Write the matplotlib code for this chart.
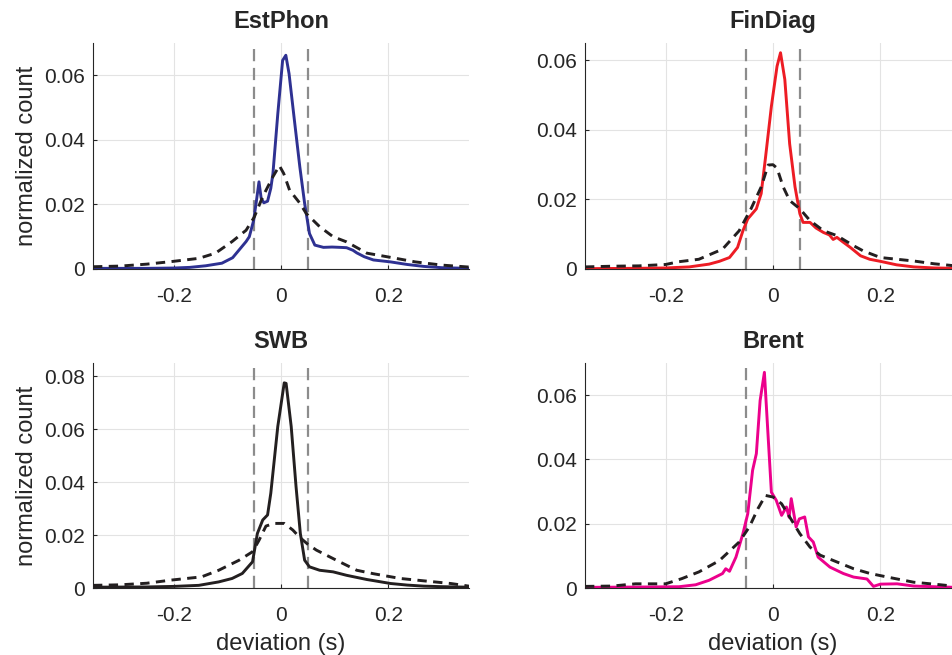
"""
Timing deviation histograms for four corpora, each compared with a
baseline distribution (black dashed). Gray dashed lines mark +-50 ms.
"""

import numpy as np
import matplotlib.pyplot as plt
from matplotlib.ticker import FuncFormatter

# Panel names and line colours
corpora = ["EstPhon", "FinDiag", "SWB", "Brent"]
corpus_colors = ["#2e3192", "#ed1c24", "#231f20", "#ec008c"]

# EstPhon: measured curve
estphon_x = [-0.35, -0.25, -0.2, -0.17, -0.14, -0.11, -0.09, -0.078, -0.065, -0.059,
             -0.051, -0.045, -0.041, -0.037, -0.032, -0.025, -0.019, -0.015, -0.006,
             0.003, 0.009, 0.015, 0.025, 0.035, 0.044, 0.053, 0.063, 0.079, 0.095,
             0.11, 0.122, 0.134, 0.141, 0.155, 0.172, 0.204, 0.235, 0.266, 0.3, 0.35]
estphon_y = [0.0002, 0.0002, 0.0003, 0.0005, 0.001, 0.0018, 0.0035, 0.0059, 0.0085, 0.010,
             0.015, 0.022, 0.027, 0.022, 0.0205, 0.021, 0.025, 0.0296, 0.048,
             0.0646, 0.0662, 0.0605, 0.046, 0.0317, 0.0203, 0.011, 0.0074, 0.0067, 0.0068,
             0.0067, 0.0066, 0.0058, 0.005, 0.0038, 0.0028, 0.0022, 0.0014, 0.0008, 0.0004, 0.0002]
# EstPhon: baseline
estphon_base_x = [-0.35, -0.3, -0.25, -0.204, -0.153, -0.122, -0.091, -0.065, -0.05, -0.034,
                  -0.015, -0.003, 0.005, 0.016, 0.035, 0.047, 0.072, 0.097, 0.122, 0.16,
                  0.204, 0.25, 0.3, 0.35]
estphon_base_y = [0.0007, 0.0009, 0.0015, 0.0023, 0.0033, 0.0049, 0.0085, 0.012, 0.016, 0.0224,
                  0.0286, 0.032, 0.0296, 0.0244, 0.0204, 0.0172, 0.0131, 0.010, 0.0084, 0.0049,
                  0.0036, 0.0022, 0.0012, 0.0006]

# FinDiag
findiag_x = [-0.35, -0.25, -0.2, -0.156, -0.119, -0.1, -0.081, -0.066, -0.056, -0.047,
             -0.031, -0.022, -0.014, -0.003, 0.0075, 0.014, 0.022, 0.031, 0.041, 0.05,
             0.056, 0.069, 0.08, 0.094, 0.105, 0.112, 0.119, 0.13, 0.144, 0.163, 0.18,
             0.2, 0.23, 0.262, 0.3, 0.34]
findiag_y = [0.0001, 0.0002, 0.0003, 0.0006, 0.0014, 0.0022, 0.0033, 0.0062, 0.011, 0.0144,
             0.0173, 0.0217, 0.032, 0.0468, 0.0583, 0.0622, 0.0545, 0.036, 0.0236, 0.0159,
             0.0134, 0.0134, 0.0118, 0.0105, 0.0098, 0.0085, 0.0091, 0.0078, 0.0062, 0.0038, 0.0028,
             0.0022, 0.0012, 0.0006, 0.0003, 0.0002]
findiag_base_x = [-0.35, -0.3, -0.25, -0.2, -0.175, -0.138, -0.094, -0.063, -0.041, -0.022,
                  -0.009, 0.0, 0.0075, 0.019, 0.031, 0.05, 0.069, 0.094, 0.119, 0.15,
                  0.168, 0.2, 0.262, 0.3, 0.34]
findiag_base_y = [0.0006, 0.0008, 0.0009, 0.0013, 0.0021, 0.0028, 0.0057, 0.011, 0.0173, 0.0236,
                  0.0299, 0.030, 0.029, 0.0236, 0.0197, 0.0173, 0.0139, 0.011, 0.0096, 0.0067,
                  0.0052, 0.0033, 0.0023, 0.0015, 0.0009]

# SWB
swb_x = [-0.35, -0.25, -0.2, -0.153, -0.116, -0.091, -0.072, -0.053, -0.044, -0.034,
         -0.025, -0.019, -0.006, 0.006, 0.0095, 0.019, 0.028, 0.036, 0.044, 0.053,
         0.072, 0.097, 0.122, 0.16, 0.172, 0.204, 0.235, 0.266, 0.3, 0.35]
swb_y = [0.0003, 0.0004, 0.0006, 0.001, 0.0023, 0.0036, 0.0055, 0.0099, 0.0206, 0.0257,
         0.0276, 0.0358, 0.061, 0.0775, 0.0773, 0.061, 0.0383, 0.0206, 0.0105, 0.008,
         0.0067, 0.0061, 0.0048, 0.0032, 0.0028, 0.0017, 0.0011, 0.0007, 0.0005, 0.0003]
swb_base_x = [-0.35, -0.3, -0.25, -0.204, -0.148, -0.116, -0.078, -0.053, -0.041, -0.028,
              -0.013, 0.006, 0.022, 0.034, 0.05, 0.066, 0.103, 0.141, 0.172, 0.222,
              0.266, 0.316, 0.35]
swb_base_y = [0.001, 0.0012, 0.0018, 0.003, 0.0042, 0.0067, 0.0105, 0.0137, 0.018, 0.0234,
              0.0244, 0.0244, 0.0219, 0.0193, 0.0165, 0.0143, 0.0105, 0.0067, 0.0054, 0.0036,
              0.0027, 0.0017, 0.0007]

# Brent
brent_x = [-0.35, -0.25, -0.175, -0.144, -0.119, -0.094, -0.088, -0.081, -0.069, -0.056,
           -0.047, -0.038, -0.031, -0.024, -0.016, -0.009, -0.003, 0.006, 0.016, 0.025,
           0.03, 0.034, 0.043, 0.049, 0.059, 0.066, 0.075, 0.084, 0.106, 0.131,
           0.15, 0.175, 0.187, 0.2, 0.231, 0.262, 0.3, 0.34]
brent_y = [0.0002, 0.0003, 0.0004, 0.001, 0.0024, 0.0045, 0.006, 0.0052, 0.0096, 0.0169,
           0.0231, 0.0366, 0.0418, 0.0583, 0.0671, 0.0469, 0.0298, 0.0273, 0.0226, 0.0252,
           0.022, 0.0278, 0.019, 0.0215, 0.0221, 0.0159, 0.0143, 0.0096, 0.0065, 0.0045,
           0.0034, 0.0028, 0.0005, 0.0012, 0.0013, 0.0006, 0.0004, 0.0002]
brent_base_x = [-0.35, -0.3, -0.256, -0.2, -0.17, -0.138, -0.1, -0.063, -0.044, -0.028,
                -0.014, 0.0, 0.016, 0.031, 0.05, 0.069, 0.088, 0.119, 0.15, 0.181,
                0.219, 0.262, 0.312, 0.34]
brent_base_y = [0.0005, 0.0006, 0.0013, 0.0013, 0.0029, 0.005, 0.0085, 0.0143, 0.019, 0.0247,
                0.0288, 0.0283, 0.0262, 0.0221, 0.0169, 0.0127, 0.0102, 0.0081, 0.006, 0.0045,
                0.0032, 0.0018, 0.001, 0.0005]

# Axis settings per panel
y_limits = [0.07, 0.065, 0.085, 0.07]
y_ticks = [[0, 0.02, 0.04, 0.06], [0, 0.02, 0.04, 0.06],
           [0, 0.02, 0.04, 0.06, 0.08], [0, 0.02, 0.04, 0.06]]
x_ticks = [-0.2, 0, 0.2]
tolerance_lines = [[-0.05, 0.05], [-0.05, 0.05], [-0.05, 0.05], [-0.05]]


def fmt_tick(v, pos):
    if abs(v) < 1e-12:
        return "0"
    return f"{v:g}"


def main():
    plt.rcParams["font.family"] = ["Liberation Sans", "DejaVu Sans"]
    plt.rcParams["axes.unicode_minus"] = False

    curves = [
        (estphon_x, estphon_y, estphon_base_x, estphon_base_y),
        (findiag_x, findiag_y, findiag_base_x, findiag_base_y),
        (swb_x, swb_y, swb_base_x, swb_base_y),
        (brent_x, brent_y, brent_base_x, brent_base_y),
    ]

    W, H = 953, 655
    fig = plt.figure(figsize=(W / 100, H / 100), dpi=100)

    # Axes boxes in pixels: left, top, width, height
    boxes = [(93, 43, 376, 226), (585, 43, 376, 226),
             (93, 363, 376, 225), (585, 363, 376, 225)]

    for i, name in enumerate(corpora):
        left, top, w, h = boxes[i]
        ax = fig.add_axes([left / W, 1 - (top + h) / H, w / W, h / H])

        for xv in tolerance_lines[i]:
            ax.axvline(xv, color="#8c8c8c", linewidth=1.6, dashes=(5.5, 3.0), zorder=1.5)

        x, y, bx, by = curves[i]
        ax.plot(x, y, color=corpus_colors[i], linewidth=2.1, zorder=2)
        ax.plot(bx, by, color="#231f20", linewidth=2.1, dashes=(3.2, 2.2), zorder=3)

        ax.set_xlim(-0.35, 0.35)
        ax.set_ylim(0, y_limits[i])
        ax.set_xticks(x_ticks)
        ax.set_yticks(y_ticks[i])
        ax.xaxis.set_major_formatter(FuncFormatter(fmt_tick))
        ax.yaxis.set_major_formatter(FuncFormatter(fmt_tick))
        ax.tick_params(direction="in", length=3, width=0.8, labelsize=15,
                       colors="#262626")
        ax.tick_params(axis="x", pad=13)
        ax.tick_params(axis="y", pad=6)
        ax.grid(True, color="#e3e3e3", linewidth=0.8, zorder=0)
        ax.set_axisbelow(True)

        for side in ["top", "right"]:
            ax.spines[side].set_visible(False)
        for side in ["left", "bottom"]:
            ax.spines[side].set_color("#262626")
            ax.spines[side].set_linewidth(0.8)

        ax.set_title(name, fontsize=17, fontweight="bold", color="#262626", pad=11)
        if i % 2 == 0:
            ax.set_ylabel("normalized count", fontsize=17, color="#262626", labelpad=4)
        if i >= 2:
            ax.set_xlabel("deviation (s)", fontsize=17, color="#262626", labelpad=6)

    fig.savefig("out.png", dpi=100)


if __name__ == "__main__":
    main()
